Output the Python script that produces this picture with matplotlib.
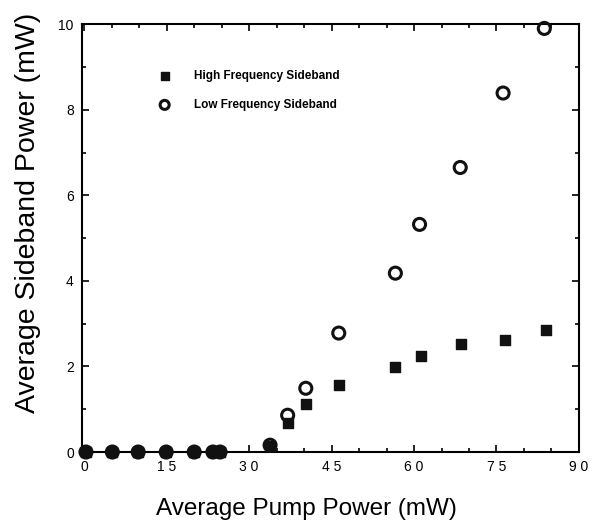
import matplotlib
matplotlib.use('Agg')
import matplotlib.pyplot as plt
from matplotlib.ticker import MultipleLocator


# pump power (mW) and sideband powers (mW)
pump = [0.3, 5.1, 9.8, 14.9, 20.0, 23.4, 24.7, 33.8, 37.0, 40.3, 46.3,
        56.6, 61.0, 68.4, 76.2, 83.7]
low_sb = [0.0, 0.0, 0.0, 0.0, 0.0, 0.0, 0.0, 0.16, 0.86, 1.49, 2.78,
          4.18, 5.32, 6.65, 8.39, 9.9]
high_pump = [0.3, 5.1, 9.8, 14.9, 20.0, 23.4, 24.7, 33.8, 37.0, 40.3, 46.3,
             56.6, 61.3, 68.6, 76.5, 84.0]
high_sb = [0.0, 0.0, 0.0, 0.0, 0.0, 0.0, 0.0, 0.14, 0.68, 1.12, 1.57,
           1.99, 2.24, 2.52, 2.62, 2.85]

x_ticks = [0, 15, 30, 45, 60, 75, 90]
x_labels = ['0', '1 5', '3 0', '4 5', '6 0', '7 5', '9 0']
y_ticks = [0, 2, 4, 6, 8, 10]

plt.rcParams['font.family'] = ['Liberation Sans', 'DejaVu Sans']

fig = plt.figure(figsize=(5.95, 5.25), dpi=100)
ax = fig.add_axes([0.138, 0.139, 0.835, 0.815])

ax.scatter(high_pump, high_sb, marker='s', s=55, color='#111111',
           label='High Frequency Sideband', clip_on=False, zorder=3)
ax.scatter(pump, low_sb, marker='o', s=75, facecolor='none',
           edgecolor='#111111', linewidths=2.2,
           label='Low Frequency Sideband', clip_on=False, zorder=4)

ax.set_xlim(-0.4, 90)
ax.set_ylim(0, 10)
ax.set_xticks(x_ticks)
ax.set_xticklabels(x_labels)
ax.set_yticks(y_ticks)
ax.xaxis.set_minor_locator(MultipleLocator(5))
ax.yaxis.set_minor_locator(MultipleLocator(1))
ax.tick_params(which='both', direction='in', top=True, right=True,
               labelsize=10, width=1.2)
ax.tick_params(which='major', length=5, pad=6)
ax.tick_params(which='minor', length=3)
for s in ax.spines.values():
    s.set_linewidth(1.5)

ax.set_xlabel('Average Pump Power (mW)', fontsize=17.5)
ax.set_ylabel('Average Sideband Power (mW)', fontsize=20.5)
# labels in the original sit a little off the axes centre
ax.xaxis.set_label_coords(0.451, -0.108)
ax.yaxis.set_label_coords(-0.083, 0.56)

leg = ax.legend(loc='upper left', bbox_to_anchor=(0.121, 0.918), frameon=False,
                markerscale=0.75, handletextpad=1.5, labelspacing=1.45,
                prop={'weight': 'bold', 'size': 8.5})

fig.savefig('out.png', dpi=100)
